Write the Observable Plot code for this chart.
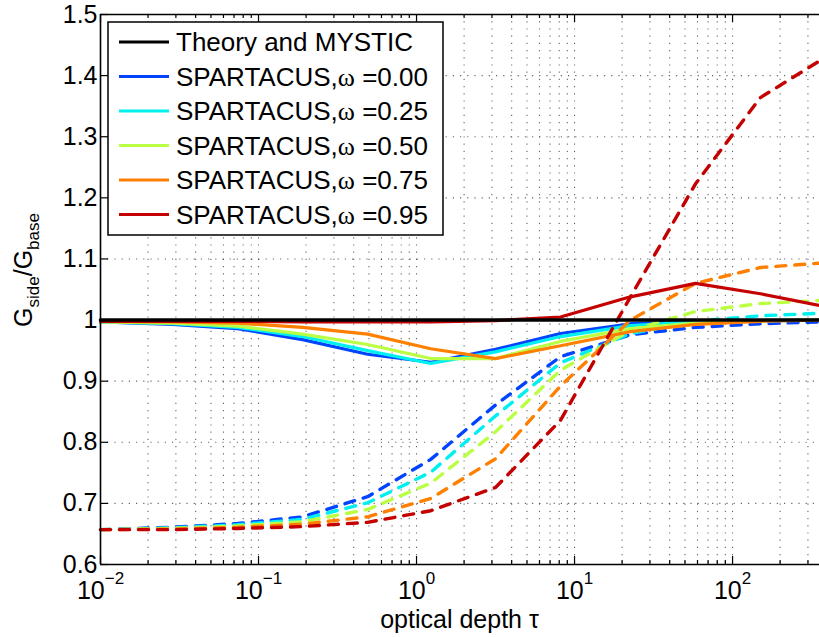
<!DOCTYPE html>
<html><head><meta charset="utf-8">
<script src="https://cdn.jsdelivr.net/npm/d3@7"></script>
<script src="https://cdn.jsdelivr.net/npm/@observablehq/plot@0.6"></script>
<style>
body{margin:0;background:#fff;}
#chart{width:819px;height:637px;}
</style></head><body><div id="chart"></div>
<script>
// optical depth sample points
const tau = [0.01, 0.0286, 0.0736, 0.19, 0.49, 1.23, 3.16, 8.15, 22.6, 58.3, 150, 355];
const omegaLabels = ["0.00", "0.25", "0.50", "0.75", "0.95"];
const seriesColors = ["#0044ff", "#00f0f0", "#bbff44", "#ff8000", "#c40000"];
const theoryMystic = [1, 1, 1, 1, 1, 1, 1, 1, 1, 1, 1, 1];
// solid lines (SPARTACUS, one per omega)
const solid000 = [0.997, 0.993, 0.986, 0.968, 0.944, 0.931, 0.952, 0.978, 0.994, 0.998, 0.999, 1.000];
const solid025 = [0.997, 0.994, 0.988, 0.973, 0.950, 0.929, 0.948, 0.973, 0.991, 0.997, 0.999, 1.000];
const solid050 = [0.997, 0.995, 0.990, 0.977, 0.960, 0.937, 0.937, 0.965, 0.986, 0.995, 0.999, 1.000];
const solid075 = [0.998, 0.997, 0.995, 0.988, 0.977, 0.953, 0.937, 0.958, 0.981, 0.993, 0.998, 1.000];
const solid095 = [0.998, 0.998, 0.998, 0.997, 0.997, 0.997, 0.999, 1.005, 1.038, 1.060, 1.043, 1.024];
// dashed lines
const dashed000 = [0.657, 0.661, 0.667, 0.678, 0.711, 0.772, 0.861, 0.940, 0.976, 0.988, 0.994, 0.997];
const dashed025 = [0.657, 0.660, 0.665, 0.674, 0.701, 0.751, 0.843, 0.930, 0.978, 0.998, 1.007, 1.011];
const dashed050 = [0.657, 0.659, 0.663, 0.670, 0.690, 0.733, 0.817, 0.918, 0.983, 1.014, 1.027, 1.032];
const dashed075 = [0.657, 0.658, 0.661, 0.666, 0.678, 0.708, 0.773, 0.892, 1.000, 1.060, 1.086, 1.093];
const dashed095 = [0.657, 0.657, 0.659, 0.662, 0.669, 0.688, 0.726, 0.836, 1.038, 1.223, 1.364, 1.424];
const yTicks = [0.6, 0.7, 0.8, 0.9, 1.0, 1.1, 1.2, 1.3, 1.4, 1.5];
const xMajorTicks = [0.01, 0.1, 1, 10, 100];
const xDomain = [0.01, 355];

const xMinorTicks = [];
for (const d of [0.01, 0.1, 1, 10, 100]) for (let k = 2; k <= 9; k++) { const v = d * k; if (v <= xDomain[1]) xMinorTicks.push(v); }
const xAllTicks = xMajorTicks.concat(xMinorTicks);

const solids = [solid000, solid025, solid050, solid075, solid095];
const dashes = [dashed000, dashed025, dashed050, dashed075, dashed095];
const toRows = arr => arr.map((g, j) => ({tau: tau[j], g}));

const W = 819, H = 637, mL = 100, mR = 0, mT = 14, mB = 73;
const innerW = W - mL - mR, innerH = H - mT - mB;
const FONT = "'Liberation Sans', Arial, Helvetica, sans-serif";

const lineMarks = [];
for (let i = 0; i < 5; i++) {
  lineMarks.push(Plot.line(toRows(solids[i]), {x: "tau", y: "g", stroke: seriesColors[i], strokeWidth: 3.2, strokeLinejoin: "miter"}));
  lineMarks.push(Plot.line(toRows(dashes[i]), {x: "tau", y: "g", stroke: seriesColors[i], strokeWidth: 3.4, strokeDasharray: "10,9", strokeLinejoin: "miter"}));
}

const fmtExp = d => { const e = Math.round(Math.log10(d)); return e < 0 ? "\u2212" + (-e) : String(e); };

const chart = Plot.plot({
  width: W, height: H,
  marginLeft: mL, marginRight: mR, marginTop: mT, marginBottom: mB,
  style: {fontFamily: FONT, fontSize: "25px", color: "#000", background: "#fff", overflow: "visible"},
  x: {type: "log", domain: xDomain, label: null},
  y: {domain: [0.6, 1.5], label: null},
  marks: [
    Plot.gridX(xAllTicks, {stroke: "#000", strokeOpacity: 0.6, strokeWidth: 1.1, strokeDasharray: "1.2,6"}),
    Plot.gridY(yTicks.filter(v => v > 0.65 && v < 1.45), {stroke: "#000", strokeOpacity: 0.6, strokeWidth: 1.1, strokeDasharray: "1.2,6"}),
    ...lineMarks,
    Plot.line(toRows(theoryMystic), {x: "tau", y: "g", stroke: "#000", strokeWidth: 3.6}),
    Plot.tickX(xMajorTicks, {x: d => d, insetTop: innerH - 8, stroke: "#000", strokeWidth: 1.2}),
    Plot.tickX(xMinorTicks, {x: d => d, insetTop: innerH - 4, stroke: "#000", strokeWidth: 1.2}),
    Plot.tickX(xMajorTicks, {x: d => d, insetBottom: innerH - 8, stroke: "#000", strokeWidth: 1.2}),
    Plot.tickX(xMinorTicks, {x: d => d, insetBottom: innerH - 4, stroke: "#000", strokeWidth: 1.2}),
    Plot.tickY(yTicks, {y: d => d, insetRight: innerW - 8, stroke: "#000", strokeWidth: 1.2}),
    Plot.ruleX([xDomain[0]], {stroke: "#000", strokeWidth: 1.6}),
    Plot.ruleY([0.6, 1.5], {stroke: "#000", strokeWidth: 1.6}),
    Plot.axisX(xMajorTicks, {tickSize: 0, tickPadding: 17, tickFormat: fmtExp, fontSize: 25, label: null}),
    Plot.axisY(yTicks, {tickSize: 0, tickPadding: 3, tickFormat: d => Math.abs(d - 1) < 1e-9 ? "1" : d.toFixed(1), fontSize: 25, label: null})
  ]
});
document.getElementById("chart").appendChild(chart);

const svg = d3.select(chart.tagName.toLowerCase() === "svg" ? chart : chart.querySelector("svg"));

// x tick labels as 10^n
svg.selectAll('g[aria-label="x-axis tick label"] text').each(function () {
  const t = d3.select(this);
  const e = t.text();
  t.text(null);
  t.append("tspan").text("10");
  t.append("tspan").attr("dy", -15).attr("font-size", 17).text(e);
});

// axis titles
const yl = svg.append("text").attr("transform", "translate(32,270) rotate(-90)")
  .attr("text-anchor", "middle").attr("font-size", 25).attr("font-family", FONT).attr("fill", "#000");
yl.append("tspan").text("G");
yl.append("tspan").attr("dy", 7).attr("font-size", 17).text("side");
yl.append("tspan").attr("dy", -7).text("/G");
yl.append("tspan").attr("dy", 7).attr("font-size", 17).text("base");

svg.append("text").attr("x", mL + innerW / 2).attr("y", 628).attr("text-anchor", "middle")
  .attr("font-size", 25).attr("font-family", FONT).attr("fill", "#000").text("optical depth \u03c4");

// legend
const lg = svg.append("g").attr("text-anchor", "start");
lg.append("rect").attr("x", 108).attr("y", 22).attr("width", 335).attr("height", 213)
  .attr("fill", "#fff").attr("stroke", "#000").attr("stroke-width", 1.5);
const entries = [{label: null, color: "#000"}].concat(omegaLabels.map((o, i) => ({label: o, color: seriesColors[i]})));
entries.forEach((en, k) => {
  const yy = 42 + k * 34.5;
  lg.append("line").attr("x1", 119).attr("x2", 169).attr("y1", yy).attr("y2", yy)
    .attr("stroke", en.color).attr("stroke-width", 3);
  const t = lg.append("text").attr("x", 176).attr("y", yy + 9).attr("font-size", 26)
    .attr("text-anchor", "start").attr("font-family", FONT).attr("fill", "#000");
  if (en.label === null) t.text("Theory and MYSTIC");
  else {
    t.append("tspan").text("SPARTACUS,");
    t.append("tspan").attr("font-family", "'Liberation Serif', 'Times New Roman', serif").text("\u03c9");
    t.append("tspan").text(" =" + en.label);
  }
});
</script></body></html>
